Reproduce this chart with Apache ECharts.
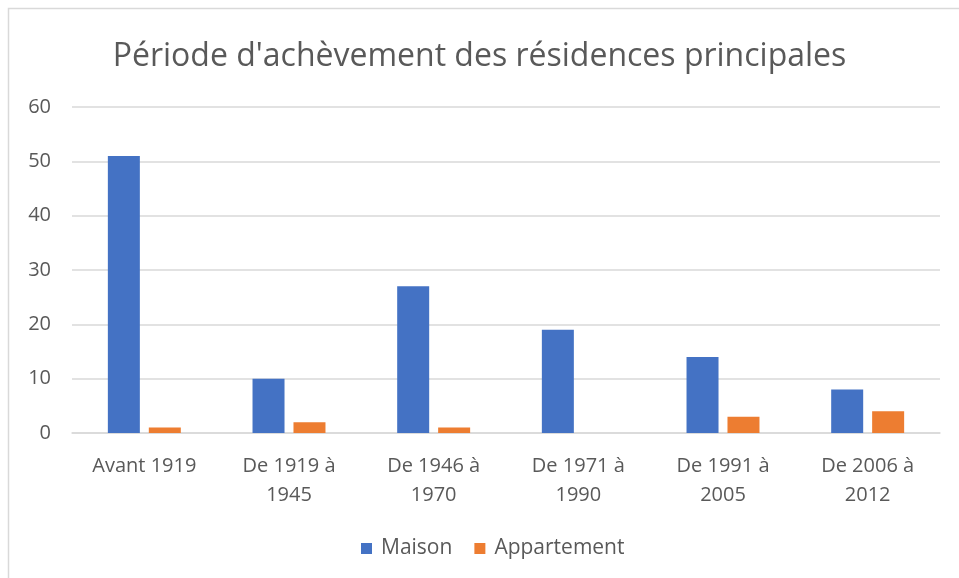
<!DOCTYPE html>
<html>
<head>
<meta charset="utf-8">
<script src="https://cdn.jsdelivr.net/npm/echarts@6/dist/echarts.min.js"></script>
<style>
html,body{margin:0;padding:0;background:#fff;}
#chart{width:959px;height:578px;}
</style>
</head>
<body>
<div id="chart"></div>
<script>
var categories = ["Avant 1919", "De 1919 à\n1945", "De 1946 à\n1970", "De 1971 à\n1990", "De 1991 à\n2005", "De 2006 à\n2012"];
var maison = [51, 10, 27, 19, 14, 8];
var appartement = [1, 2, 1, 0, 3, 4];
var yTicks = [0, 10, 20, 30, 40, 50, 60];

var font = "'Open Sans', 'Noto Sans', sans-serif";
var chart = echarts.init(document.getElementById('chart'));
chart.setOption({
  backgroundColor: '#ffffff',
  animation: false,
  graphic: [{
    type: 'rect',
    shape: {x: 8.5, y: 8.5, width: 980, height: 600},
    style: {fill: 'none', stroke: '#d9d9d9', lineWidth: 1.5},
    silent: true
  }],
  title: {
    text: "Période d'achèvement des résidences principales",
    left: 'center',
    top: 36,
    textStyle: {fontFamily: font, fontSize: 32, fontWeight: 'normal', color: '#595959'}
  },
  legend: {
    data: ['Maison', 'Appartement'],
    bottom: 14,
    left: 356,
    itemWidth: 11,
    itemHeight: 11,
    itemGap: 22,
    icon: 'rect',
    textStyle: {fontFamily: font, fontSize: 21, color: '#595959', padding: [0, 0, 0, 4]}
  },
  grid: {left: 72, right: 19, top: 107, bottom: 145},
  xAxis: {
    type: 'category',
    data: categories,
    axisLine: {lineStyle: {color: '#d9d9d9', width: 1.5}},
    axisTick: {show: false},
    axisLabel: {fontFamily: font, fontSize: 20, color: '#595959', lineHeight: 29, margin: 19}
  },
  yAxis: {
    type: 'value',
    min: yTicks[0],
    max: yTicks[yTicks.length - 1],
    interval: 10,
    axisLine: {show: false},
    axisTick: {show: false},
    splitLine: {lineStyle: {color: '#d9d9d9', width: 1.5}},
    axisLabel: {fontFamily: font, fontSize: 20, color: '#595959', margin: 21}
  },
  series: [{
    name: 'Maison',
    type: 'bar',
    data: maison,
    barWidth: 32,
    barGap: '28%',
    itemStyle: {color: '#4472c4'}
  }, {
    name: 'Appartement',
    type: 'bar',
    data: appartement,
    barWidth: 32,
    itemStyle: {color: '#ed7d31'}
  }]
});
</script>
</body>
</html>
